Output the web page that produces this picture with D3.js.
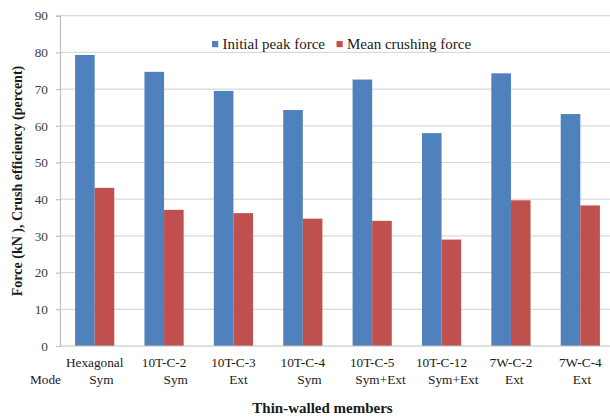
<!DOCTYPE html>
<html>
<head>
<meta charset="utf-8">
<script src="https://cdn.jsdelivr.net/npm/d3@7/dist/d3.min.js"></script>
<style>
  html, body { margin: 0; padding: 0; background: #fff; }
  svg { display: block; }
</style>
</head>
<body>
<svg id="chart" width="610" height="417"></svg>
<script>
// Thin-walled members and their collapse mode (second label line)
const members = ["Hexagonal", "10T-C-2", "10T-C-3", "10T-C-4", "10T-C-5", "10T-C-12", "7W-C-2", "7W-C-4"];
const modes = ["    Sym", "       Sym", "   Ext", "    Sym", "     Sym+Ext", "       Sym+Ext", "  Ext", " Ext"];

// Series values (kN)
const seriesNames = ["Initial peak force", "Mean crushing force"];
const initialPeak = [79.3, 74.7, 69.5, 64.3, 72.6, 58.0, 74.3, 63.2];
const meanCrushing = [43.1, 37.1, 36.2, 34.7, 34.1, 29.0, 39.7, 38.3];
const seriesColors = ["#4f81bd", "#c0504d"];

const yTicks = [0, 10, 20, 30, 40, 50, 60, 70, 80, 90];

const FONT = '"Liberation Serif", "Times New Roman", Tinos';
const svg = d3.select("#chart");
const plotLeft = 60, plotRight = 615, plotTop = 15.7, plotBottom = 346;

const x = d3.scaleBand().domain(members).range([plotLeft, plotRight]).padding(0);
const xs = d3.scaleBand().domain(seriesNames).range([0, x.bandwidth()])
  .paddingInner(0).paddingOuter(0.77);
const y = d3.scaleLinear().domain([0, 90]).range([plotBottom, plotTop]);

// Horizontal gridlines
svg.append("g")
  .selectAll("line")
  .data(yTicks.filter(d => d > 0))
  .join("line")
  .attr("x1", plotLeft).attr("x2", 610)
  .attr("y1", d => y(d)).attr("y2", d => y(d))
  .attr("stroke", "#d9d9d9").attr("stroke-width", 1.2);

// Y axis
const yAxis = svg.append("g")
  .attr("transform", `translate(${plotLeft},0)`)
  .call(d3.axisLeft(y).tickValues(yTicks).tickSize(4).tickPadding(8));
yAxis.select(".domain").attr("stroke", "#bfbfbf").attr("stroke-width", 1.2);
yAxis.selectAll(".tick line").attr("stroke", "#bfbfbf").attr("stroke-width", 1.2);
yAxis.selectAll(".tick text")
  .style("font-family", FONT)
  .style("font-size", "13.3px").attr("fill", "#404040");

// Bars
const rows = members.map((m, i) => ({ member: m, values: [initialPeak[i], meanCrushing[i]] }));
const groups = svg.append("g").selectAll("g")
  .data(rows)
  .join("g")
  .attr("transform", d => `translate(${x(d.member)},0)`);
groups.selectAll("rect")
  .data(d => d.values.map((v, k) => ({ name: seriesNames[k], value: v, color: seriesColors[k] })))
  .join("rect")
  .attr("x", d => xs(d.name))
  .attr("width", xs.bandwidth())
  .attr("y", d => y(d.value))
  .attr("height", d => y(0) - y(d.value))
  .attr("fill", d => d.color);

// X axis baseline
svg.append("line")
  .attr("x1", plotLeft).attr("x2", 610)
  .attr("y1", y(0)).attr("y2", y(0))
  .attr("stroke", "#bfbfbf").attr("stroke-width", 1.2);

// Category labels (member name + mode)
const cat = svg.append("g").attr("text-anchor", "middle");
cat.selectAll("text.name")
  .data(members)
  .join("text").attr("class", "name")
  .attr("x", d => x(d) + x.bandwidth() / 2)
  .attr("y", 366.5)
  .style("font-family", FONT).style("font-size", "13.3px").attr("fill", "#1a1a1a")
  .text(d => d);
cat.selectAll("text.mode")
  .data(modes)
  .join("text").attr("class", "mode")
  .attr("x", (d, i) => x(members[i]) + x.bandwidth() / 2)
  .attr("y", 383.5)
  .style("font-family", FONT).style("font-size", "13.3px").style("white-space", "pre")
  .attr("fill", "#1a1a1a")
  .text(d => d);
svg.append("text")
  .attr("x", 30).attr("y", 383.5)
  .style("font-family", FONT).style("font-size", "13.3px").attr("fill", "#1a1a1a")
  .text("Mode");

// Axis titles
svg.append("text")
  .attr("x", 322.5).attr("y", 412.5)
  .attr("text-anchor", "middle")
  .style("font-family", FONT).style("font-size", "15px").style("font-weight", "bold")
  .attr("fill", "#1a1a1a")
  .text("Thin-walled members");
svg.append("text")
  .attr("transform", `translate(21.5,${181}) rotate(-90)`)
  .attr("text-anchor", "middle")
  .style("font-family", FONT).style("font-size", "14px").style("font-weight", "bold")
  .attr("fill", "#1a1a1a")
  .text("Force (kN ), Crush efficiency (percent)");

// Legend
const legendX = [212, 336.5];
const legend = svg.append("g").selectAll("g")
  .data(seriesNames)
  .join("g")
  .attr("transform", (d, i) => `translate(${legendX[i]},41)`);
legend.append("rect")
  .attr("width", 6.2).attr("height", 6.2)
  .attr("fill", (d, i) => seriesColors[i]);
legend.append("text")
  .attr("x", 10.5).attr("y", 7.8)
  .style("font-family", FONT).style("font-size", "15px").attr("fill", "#1a1a1a")
  .text(d => d);
</script>
</body>
</html>
